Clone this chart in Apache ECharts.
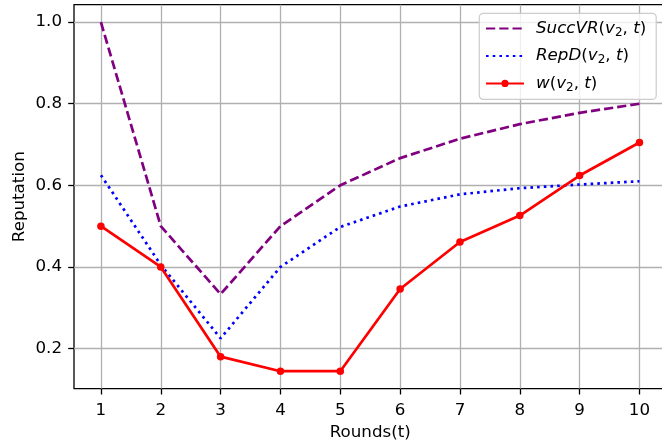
<!DOCTYPE html>
<html>
<head>
<meta charset="utf-8">
<script src="https://cdn.jsdelivr.net/npm/echarts@6/dist/echarts.min.js"></script>
<style>html,body{margin:0;padding:0;background:#fff}#c{width:662px;height:447px}</style>
</head>
<body>
<div id="c"></div>
<script>
const rounds = [1, 2, 3, 4, 5, 6, 7, 8, 9, 10];
const succVR = [1.0, 0.5, 0.3333, 0.5, 0.6, 0.6667, 0.7143, 0.75, 0.7778, 0.8];
const repD = [0.625, 0.405, 0.225, 0.4, 0.498, 0.548, 0.578, 0.593, 0.602, 0.61];
const w = [0.5, 0.4, 0.18, 0.1444, 0.1444, 0.346, 0.461, 0.526, 0.624, 0.705];
const yTicks = [0.2, 0.4, 0.6, 0.8, 1.0];
const xTicks = rounds;

const FONT = 'DejaVu Sans';
const FS = 16.7;
const pair = (xs, ys) => xs.map((x, i) => [x, ys[i]]);

const chart = echarts.init(document.getElementById('c'), null, {renderer: 'canvas'});
const rich = {
  i: {fontFamily: FONT, fontStyle: 'italic', fontSize: FS, color: '#000', lineHeight: 22},
  n: {fontFamily: FONT, fontSize: FS, color: '#000', lineHeight: 22},
  s: {fontFamily: FONT, fontSize: 12, color: '#000', padding: [8, 0, 0, 0], lineHeight: 14}
};
const legendNames = {
  'SuccVR': '{i|SuccVR}{n|(}{i|v}{s|2}{n|, }{i|t}{n|)}',
  'RepD': '{i|RepD}{n|(}{i|v}{s|2}{n|, }{i|t}{n|)}',
  'w': '{i|w}{n|(}{i|v}{s|2}{n|, }{i|t}{n|)}'
};
chart.setOption({
  animation: false,
  backgroundColor: '#fff',
  grid: {left: 74, top: 4.7, width: 592.4, height: 384, outerBoundsMode: 'none', containLabel: false,
         show: true, borderColor: '#000', borderWidth: 1.3, backgroundColor: 'transparent'},
  xAxis: {
    type: 'value', min: 0.55, max: 10.45,
    name: 'Rounds(t)', nameLocation: 'middle', nameGap: 35, nameMoveOverlap: false,
    nameTextStyle: {fontFamily: FONT, fontSize: FS, color: '#000'},
    axisLine: {show: false},
    axisTick: {show: true, length: 5.8, lineStyle: {color: '#000', width: 1.3}, customValues: xTicks},
    axisLabel: {customValues: xTicks, fontFamily: FONT, fontSize: FS, color: '#000', margin: 13, hideOverlap: false},
    splitLine: {show: true, lineStyle: {color: '#b0b0b0', width: 1.3}}
  },
  yAxis: {
    type: 'value', min: 0.1015, max: 1.0428,
    name: 'Reputation', nameLocation: 'middle', nameGap: 46, nameMoveOverlap: false,
    nameTextStyle: {fontFamily: FONT, fontSize: FS, color: '#000'},
    axisLine: {show: false},
    axisTick: {show: true, length: 5.8, lineStyle: {color: '#000', width: 1.3}, customValues: yTicks},
    axisLabel: {customValues: yTicks, fontFamily: FONT, fontSize: FS, color: '#000', margin: 12,
      formatter: v => v.toFixed(1)},
    splitLine: {show: true, lineStyle: {color: '#b0b0b0', width: 1.3}}
  },
  legend: {
    orient: 'vertical', left: 479.3, top: 13.3,
    padding: [5.3, 10, 6, 5.7],
    itemWidth: 38, itemHeight: 9, itemGap: 7.4,
    backgroundColor: 'rgba(255,255,255,0.8)',
    borderColor: '#cccccc', borderWidth: 1.2, borderRadius: 4,
    textStyle: {fontFamily: FONT, fontSize: FS, color: '#000', padding: [0, 0, 0, 7], rich: rich},
    formatter: name => legendNames[name],
    data: [
      {name: 'SuccVR', itemStyle: {opacity: 0}},
      {name: 'RepD', itemStyle: {opacity: 0}},
      {name: 'w'}
    ]
  },
  series: [
    {name: 'SuccVR', type: 'line', data: pair(rounds, succVR), symbol: 'none',
     lineStyle: {color: '#800080', width: 2.7, type: [9.25, 4]}, itemStyle: {color: '#800080'}},
    {name: 'RepD', type: 'line', data: pair(rounds, repD), symbol: 'none',
     lineStyle: {color: '#0000ff', width: 2.7, type: [2.6, 4.1]}, itemStyle: {color: '#0000ff'}},
    {name: 'w', type: 'line', data: pair(rounds, w), symbol: 'circle', symbolSize: 7.5,
     lineStyle: {color: '#ff0000', width: 2.7}, itemStyle: {color: '#ff0000'}}
  ]
});
</script>
</body>
</html>
